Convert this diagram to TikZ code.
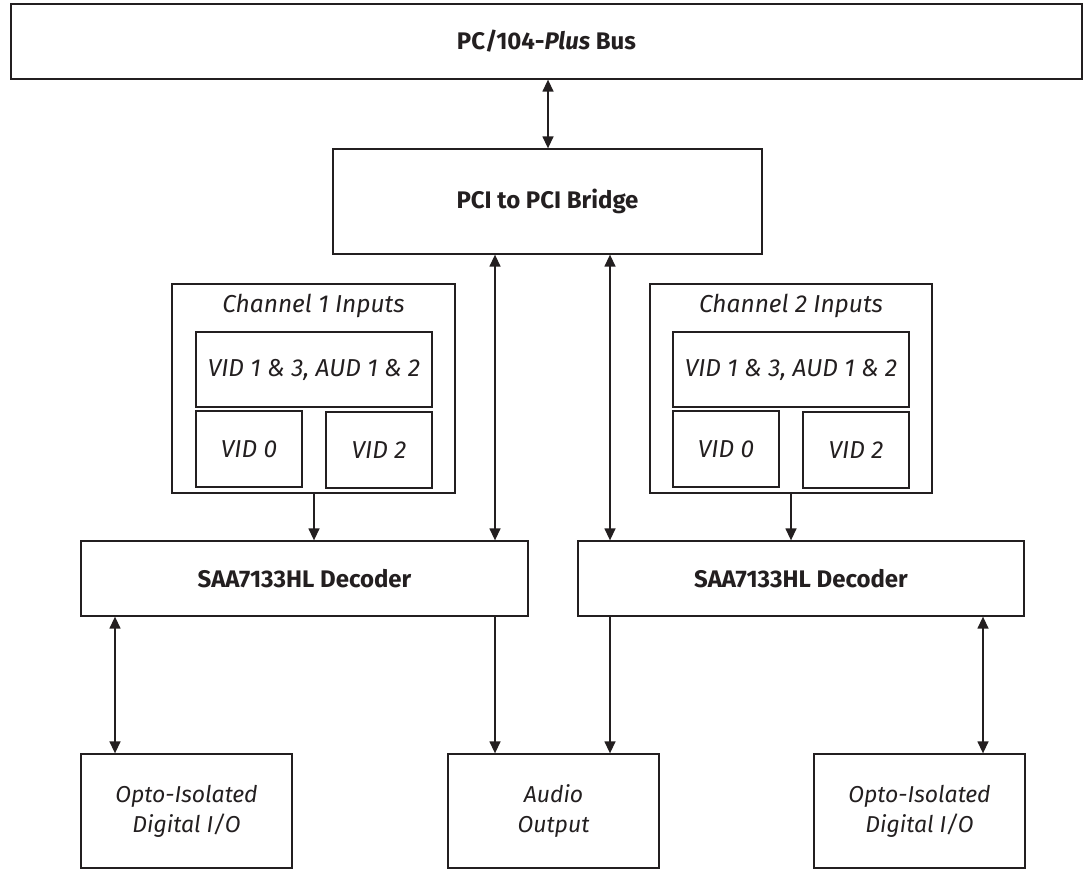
\documentclass[tikz,border=0pt]{standalone}
\usepackage{fontspec}
\setmainfont{Fira Sans}
\usetikzlibrary{arrows.meta}
\definecolor{ink}{HTML}{231F20}
\begin{document}
\begin{tikzpicture}[x=1pt,y=-1pt,
  box/.style={draw=ink,line width=1.3pt,inner sep=0pt,text=ink,align=center},
  boldtxt/.style={font=\fontsize{24}{28}\selectfont\bfseries},
  itxt/.style={font=\fontsize{24.5}{30}\selectfont\itshape},
  btxt/.style={font=\fontsize{23}{30}\selectfont\itshape},
  conn/.style={draw=ink,line width=1.4pt},
  tip/.style={-{Triangle[length=12pt,width=11pt]}},
  tips/.style={{Triangle[length=12pt,width=11pt]}-{Triangle[length=12pt,width=11pt]}}]
\useasboundingbox (0,0) rectangle (1085,869);
% boxes
\node[box,boldtxt,minimum width=1071pt,minimum height=75pt] (bus) at (546.5,41.5) {PC/104-\textit{Plus} Bus};
\node[box,boldtxt,minimum width=429pt,minimum height=105pt] (bridge) at (547.5,201.5) {PCI to PCI Bridge};
% channel 1
\node[box,minimum width=283pt,minimum height=209pt] (ch1) at (313.5,388.5) {};
\node[itxt,text=ink,inner sep=0pt] (ch1t) at (313.5,306) {Channel 1 Inputs};
\node[box,itxt,minimum width=236pt,minimum height=75pt] (ch1a) at (314,369.5) {VID 1 \& 3, AUD 1 \& 2};
\node[box,itxt,minimum width=106pt,minimum height=76pt] (ch1b) at (249,449) {VID 0};
\node[box,itxt,minimum width=106pt,minimum height=76pt] (ch1c) at (379,450) {VID 2};
% channel 2
\node[box,minimum width=282pt,minimum height=209pt] (ch2) at (791,388.5) {};
\node[itxt,text=ink,inner sep=0pt] (ch2t) at (791,306) {Channel 2 Inputs};
\node[box,itxt,minimum width=236pt,minimum height=75pt] (ch2a) at (791,369.5) {VID 1 \& 3, AUD 1 \& 2};
\node[box,itxt,minimum width=106pt,minimum height=76pt] (ch2b) at (726,449) {VID 0};
\node[box,itxt,minimum width=106pt,minimum height=76pt] (ch2c) at (856,450) {VID 2};
% decoders
\node[box,boldtxt,minimum width=447pt,minimum height=75pt] (decl) at (304.5,578.5) {SAA7133HL Decoder};
\node[box,boldtxt,minimum width=446pt,minimum height=75pt] (decr) at (801,578.5) {SAA7133HL Decoder};
% bottom
\node[box,btxt,minimum width=211pt,minimum height=114pt] (diol) at (186.5,811) {Opto-Isolated\\Digital I/O};
\node[box,btxt,minimum width=211pt,minimum height=114pt] (audio) at (553.5,811) {Audio\\Output};
\node[box,btxt,minimum width=211pt,minimum height=114pt] (dior) at (919.5,811) {Opto-Isolated\\Digital I/O};
% connector x positions
\coordinate (xa) at (548,0);
\coordinate (xb) at (495,0);
\coordinate (xc) at (610,0);
\coordinate (xd) at (314,0);
\coordinate (xe) at (791,0);
\coordinate (xf) at (115,0);
\coordinate (xg) at (983,0);
% connectors
\draw[conn,tips] (bus.south -| xa) -- (bridge.north -| xa);
\draw[conn,tips] (bridge.south -| xb) -- (decl.north -| xb);
\draw[conn,tips] (bridge.south -| xc) -- (decr.north -| xc);
\draw[conn,tip] (ch1.south -| xd) -- (decl.north -| xd);
\draw[conn,tip] (ch2.south -| xe) -- (decr.north -| xe);
\draw[conn,tips] (decl.south -| xf) -- (diol.north -| xf);
\draw[conn,tip] (decl.south -| xb) -- (audio.north -| xb);
\draw[conn,tip] (decr.south -| xc) -- (audio.north -| xc);
\draw[conn,tips] (decr.south -| xg) -- (dior.north -| xg);
\end{tikzpicture}
\end{document}
